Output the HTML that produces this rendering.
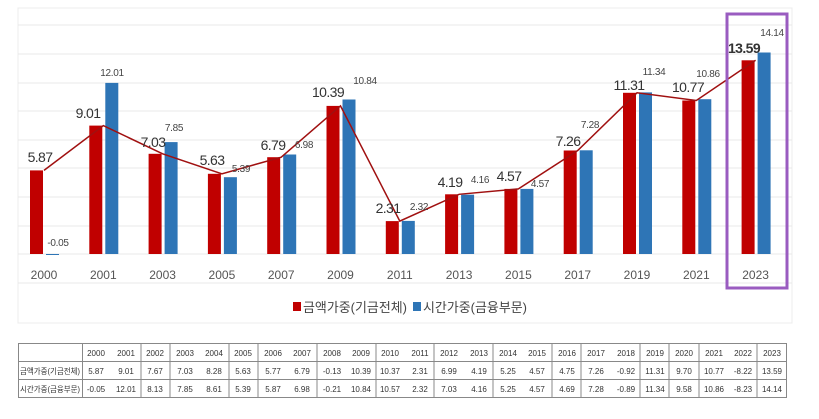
<!DOCTYPE html>
<html><head><meta charset="utf-8"><style>
body{margin:0;background:#fff;width:819px;height:414px;overflow:hidden;font-family:"Liberation Sans","Noto Sans CJK KR",sans-serif}
</style></head><body>
<svg width="819" height="414" viewBox="0 0 819 414" xmlns="http://www.w3.org/2000/svg" font-family="'Liberation Sans','Noto Sans CJK KR',sans-serif">
<rect x="18" y="8" width="774" height="315" fill="none" stroke="#ececec"/>
<g stroke="#e8e8e8" stroke-width="1">
<line x1="18" x2="792" y1="25" y2="25"/><line x1="18" x2="792" y1="54" y2="54"/><line x1="18" x2="792" y1="83" y2="83"/><line x1="18" x2="792" y1="111" y2="111"/><line x1="18" x2="792" y1="140" y2="140"/><line x1="18" x2="792" y1="168" y2="168"/><line x1="18" x2="792" y1="197" y2="197"/><line x1="18" x2="792" y1="226" y2="226"/><line x1="18" x2="792" y1="254" y2="254"/><line x1="18" x2="792" y1="283" y2="283"/>
</g>
<g fill="#c00000">
<rect x="30" y="170.4" width="13" height="83.6"/><rect x="89.3" y="125.6" width="13" height="128.4"/><rect x="148.6" y="153.8" width="13" height="100.2"/><rect x="207.9" y="173.8" width="13" height="80.2"/><rect x="267.2" y="157.2" width="13" height="96.8"/><rect x="326.5" y="105.9" width="13" height="148.1"/><rect x="385.8" y="221.1" width="13" height="32.9"/><rect x="445.1" y="194.3" width="13" height="59.7"/><rect x="504.4" y="188.9" width="13" height="65.1"/><rect x="563.7" y="150.5" width="13" height="103.5"/><rect x="623" y="92.8" width="13" height="161.2"/><rect x="682.3" y="100.5" width="13" height="153.5"/><rect x="741.6" y="60.3" width="13" height="193.7"/>
</g>
<g fill="#2e75b6">
<rect x="46" y="254" width="13" height="1"/><rect x="105.3" y="82.9" width="13" height="171.1"/><rect x="164.6" y="142.1" width="13" height="111.9"/><rect x="223.9" y="177.2" width="13" height="76.8"/><rect x="283.2" y="154.5" width="13" height="99.5"/><rect x="342.5" y="99.5" width="13" height="154.5"/><rect x="401.8" y="220.9" width="13" height="33.1"/><rect x="461.1" y="194.7" width="13" height="59.3"/><rect x="520.4" y="188.9" width="13" height="65.1"/><rect x="579.7" y="150.3" width="13" height="103.7"/><rect x="639" y="92.4" width="13" height="161.6"/><rect x="698.3" y="99.2" width="13" height="154.8"/><rect x="757.6" y="52.5" width="13" height="201.5"/>
</g>
<polyline fill="none" stroke="#a01010" stroke-width="1.5" points="44,170.4 103.3,125.6 162.6,153.8 221.9,173.8 281.2,157.2 340.5,105.9 399.8,221.1 459.1,194.3 518.4,188.9 577.7,150.5 637,92.8 696.3,100.5 755.6,60.3"/>
<g font-size="14" fill="#333" text-anchor="middle" letter-spacing="-0.6">
<text x="40" y="162">5.87</text><text x="88" y="118">9.01</text><text x="153" y="147">7.03</text><text x="212" y="165">5.63</text><text x="273" y="150">6.79</text><text x="328" y="97">10.39</text><text x="388" y="213">2.31</text><text x="450" y="187">4.19</text><text x="509" y="181">4.57</text><text x="568" y="146">7.26</text><text x="629" y="90">11.31</text><text x="688" y="92">10.77</text><text x="744" y="53" font-weight="bold">13.59</text>
</g>
<g font-size="10" fill="#444" text-anchor="middle" letter-spacing="-0.3">
<text x="58" y="246">-0.05</text><text x="112" y="76">12.01</text><text x="174" y="131">7.85</text><text x="241" y="172">5.39</text><text x="304" y="148">6.98</text><text x="365" y="84">10.84</text><text x="419" y="210">2.32</text><text x="480" y="183">4.16</text><text x="540" y="187">4.57</text><text x="590" y="128">7.28</text><text x="654" y="75">11.34</text><text x="708" y="77">10.86</text><text x="772" y="36">14.14</text>
</g>
<g font-size="12" fill="#555" text-anchor="middle">
<text x="44" y="279">2000</text><text x="103.3" y="279">2001</text><text x="162.6" y="279">2003</text><text x="221.9" y="279">2005</text><text x="281.2" y="279">2007</text><text x="340.5" y="279">2009</text><text x="399.8" y="279">2011</text><text x="459.1" y="279">2013</text><text x="518.4" y="279">2015</text><text x="577.7" y="279">2017</text><text x="637" y="279">2019</text><text x="696.3" y="279">2021</text><text x="755.6" y="279">2023</text>
</g>
<rect x="727" y="14" width="60" height="274" fill="none" stroke="#9a5cc0" stroke-width="3"/>
<rect x="293" y="302" width="8" height="9" fill="#c00000"/>
<text x="303" y="312" font-size="13" fill="#444" textLength="104" lengthAdjust="spacingAndGlyphs">금액가중(기금전체)</text>
<rect x="413" y="302" width="8" height="9" fill="#2e75b6"/>
<text x="423" y="312" font-size="13" fill="#444" textLength="104" lengthAdjust="spacingAndGlyphs">시간가중(금융부문)</text>
<g stroke="#888" stroke-width="1" fill="none">
<rect x="18.5" y="343.5" width="768" height="54"/>
<line x1="18" x2="787" y1="361.5" y2="361.5"/><line x1="18" x2="787" y1="379.5" y2="379.5"/>
<line x1="82.5" x2="82.5" y1="343" y2="398"/>
<line x1="141" x2="141" y1="343" y2="398"/><line x1="170" x2="170" y1="343" y2="398"/><line x1="229" x2="229" y1="343" y2="398"/><line x1="258" x2="258" y1="343" y2="398"/><line x1="317" x2="317" y1="343" y2="398"/><line x1="376" x2="376" y1="343" y2="398"/><line x1="434" x2="434" y1="343" y2="398"/><line x1="493" x2="493" y1="343" y2="398"/><line x1="552" x2="552" y1="343" y2="398"/><line x1="581" x2="581" y1="343" y2="398"/><line x1="640" x2="640" y1="343" y2="398"/><line x1="669" x2="669" y1="343" y2="398"/><line x1="699" x2="699" y1="343" y2="398"/><line x1="757" x2="757" y1="343" y2="398"/>
</g>
<g font-size="8" fill="#333" text-anchor="middle">
<text y="356"><tspan x="96">2000</tspan><tspan x="126">2001</tspan><tspan x="155">2002</tspan><tspan x="185">2003</tspan><tspan x="214">2004</tspan><tspan x="243">2005</tspan><tspan x="273">2006</tspan><tspan x="302">2007</tspan><tspan x="332">2008</tspan><tspan x="361">2009</tspan><tspan x="390">2010</tspan><tspan x="420">2011</tspan><tspan x="449">2012</tspan><tspan x="479">2013</tspan><tspan x="508">2014</tspan><tspan x="537">2015</tspan><tspan x="567">2016</tspan><tspan x="596">2017</tspan><tspan x="626">2018</tspan><tspan x="655">2019</tspan><tspan x="684">2020</tspan><tspan x="714">2021</tspan><tspan x="743">2022</tspan><tspan x="772">2023</tspan></text>
<text y="374"><tspan x="96">5.87</tspan><tspan x="126">9.01</tspan><tspan x="155">7.67</tspan><tspan x="185">7.03</tspan><tspan x="214">8.28</tspan><tspan x="243">5.63</tspan><tspan x="273">5.77</tspan><tspan x="302">6.79</tspan><tspan x="332">-0.13</tspan><tspan x="361">10.39</tspan><tspan x="390">10.37</tspan><tspan x="420">2.31</tspan><tspan x="449">6.99</tspan><tspan x="479">4.19</tspan><tspan x="508">5.25</tspan><tspan x="537">4.57</tspan><tspan x="567">4.75</tspan><tspan x="596">7.26</tspan><tspan x="626">-0.92</tspan><tspan x="655">11.31</tspan><tspan x="684">9.70</tspan><tspan x="714">10.77</tspan><tspan x="743">-8.22</tspan><tspan x="772">13.59</tspan></text>
<text y="392"><tspan x="96">-0.05</tspan><tspan x="126">12.01</tspan><tspan x="155">8.13</tspan><tspan x="185">7.85</tspan><tspan x="214">8.61</tspan><tspan x="243">5.39</tspan><tspan x="273">5.87</tspan><tspan x="302">6.98</tspan><tspan x="332">-0.21</tspan><tspan x="361">10.84</tspan><tspan x="390">10.57</tspan><tspan x="420">2.32</tspan><tspan x="449">7.03</tspan><tspan x="479">4.16</tspan><tspan x="508">5.25</tspan><tspan x="537">4.57</tspan><tspan x="567">4.69</tspan><tspan x="596">7.28</tspan><tspan x="626">-0.89</tspan><tspan x="655">11.34</tspan><tspan x="684">9.58</tspan><tspan x="714">10.86</tspan><tspan x="743">-8.23</tspan><tspan x="772">14.14</tspan></text>
</g>
<g font-size="8" fill="#333">
<text x="20" y="374" textLength="60" lengthAdjust="spacingAndGlyphs">금액가중(기금전체)</text>
<text x="20" y="392" textLength="60" lengthAdjust="spacingAndGlyphs">시간가중(금융부문)</text>
</g>
</svg>
</body></html>
